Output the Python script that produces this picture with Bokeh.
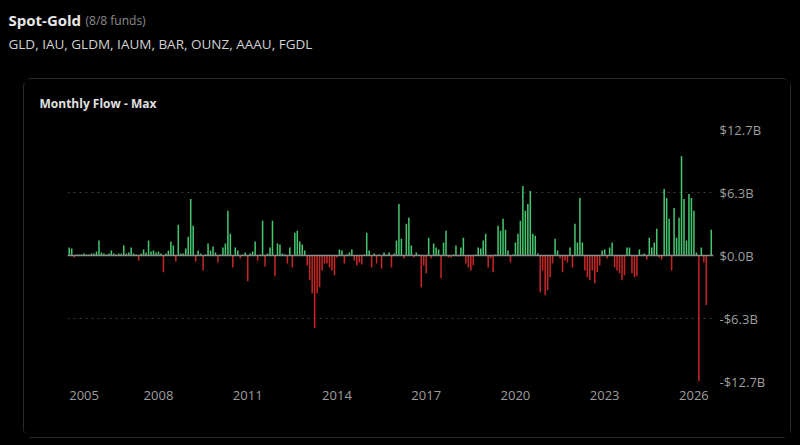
from bokeh.plotting import figure
from bokeh.layouts import column
from bokeh.models import FixedTicker, Range1d, Span, ColumnDataSource
from bokeh.core.properties import value
from bokeh.embed import file_html
from bokeh.resources import INLINE

# ---------------- data ----------------
title_text = "Spot-Gold"
fund_count_text = "(8/8 funds)"
fund_tickers = ["GLD", "IAU", "GLDM", "IAUM", "BAR", "OUNZ", "AAAU", "FGDL"]
panel_title = "Monthly Flow - Max"
start_year = 2005
start_month = 1
x_tick_years = [2005, 2008, 2011, 2014, 2017, 2020, 2023, 2026]

# monthly net flow, billions USD
flows = [
    0.8, 0.7, -0.2, 0.1, 0.1, 0.1, 0.2, 0.1, 0.1, 0.2,
    0.2, 0.4, 1.5, 0.3, 0.2, 0.1, 0.2, 0.5, 0.2, 0.1,
    0.2, 0.2, 1.0, 0.2, 0.3, 0.8, 0.2, 0.1, -0.5, 0.2,
    0.6, 0.3, 1.5, 0.4, 0.5, 0.3, 0.4, 0.2, -1.7, 0.2,
    0.5, 1.4, 1.0, -0.6, 3.1, 0.2, 0.2, 0.7, 1.9, 5.7,
    3.0, -0.6, 0.5, 0.2, -1.5, 0.1, 1.2, 0.5, 0.9, 0.3,
    -0.7, 0.1, 0.8, 1.2, 4.5, 2.2, -1.2, 0.8, 0.5, -0.3,
    0.1, 0.3, -2.6, 0.2, 0.4, 1.4, -0.5, 0.1, 3.5, -1.1,
    0.2, 0.8, 3.5, -2.1, 1.2, 1.1, 0.2, 0.1, -0.8, 0.8,
    -1.2, 2.3, 2.5, 1.4, 1.1, 0.5, -1.0, -2.5, -3.8, -7.3,
    -3.8, -3.2, -1.5, -0.8, -0.8, -1.2, -1.5, -2.0, -0.2, 0.6,
    0.5, -0.8, 0.1, 0.3, 0.6, -0.5, -1.0, -0.7, -0.9, 0.1,
    2.3, 0.5, -1.2, 0.2, -0.8, 0.1, -1.3, 0.3, 0.1, 0.3,
    -1.2, 0.2, 1.5, 5.2, 1.7, -0.3, 3.2, 3.8, 1.0, -0.2,
    0.3, 0.1, -3.2, -1.0, -1.8, 1.8, -0.3, 1.2, 0.8, 0.6,
    -2.3, 1.3, 2.5, -0.2, -0.2, 0.1, 1.0, -0.1, 0.8, 1.8,
    -0.8, -1.2, -1.5, -1.0, 0.1, 0.8, 0.7, 1.5, 2.2, -1.2,
    -0.3, -1.7, 0.1, 3.0, 2.5, 3.7, 2.6, 0.5, -0.7, 0.1,
    1.3, 2.2, 3.5, 7.0, 4.5, 5.2, 6.5, 2.2, 2.0, 0.2,
    -3.7, -1.5, -4.0, -3.5, -2.2, -0.8, 1.7, 0.5, -0.3, -1.7,
    -0.5, -0.7, 0.8, -1.2, 3.2, 1.3, 5.8, 1.3, -1.5, -2.2,
    -2.5, -1.5, -2.8, -1.7, -1.0, 0.5, 0.6, -0.3, 0.8, 1.3,
    -1.2, -1.5, -1.8, -2.5, -2.0, 0.8, 0.8, -1.8, -2.2, -2.1,
    0.6, 0.1, 0.2, -0.4, 1.8, 0.8, 1.3, 2.7, -0.2, -0.4,
    6.7, 5.8, 3.7, -1.5, 4.8, 1.8, 3.8, 10.0, 5.7, 1.5,
    6.2, 5.8, 4.5, 0.3, -12.7, 0.8, -0.7, -5.0, 0.0, 2.6,
]

# ---------------- derived ----------------
n = len(flows)
months = [f"{start_year + (start_month - 1 + k) // 12}-{(start_month - 1 + k) % 12 + 1:02d}" for k in range(n)]
idx = list(range(n))
GREEN = "#45c56e"
RED = "#c42626"
colors = [GREEN if v >= 0 else RED for v in flows]
src = ColumnDataSource(dict(x=idx, month=months, flow=flows, color=colors))

ymax = max(abs(v) for v in flows)
y_ticks = [-ymax, -ymax / 2, 0.0, ymax / 2, ymax]


def money(v):
    s = f"${abs(v):.1f}B"
    return "-" + s if v < 0 else s


FONT = "Open Sans"
BG = "#000000"

# ---------------- header ----------------
HW, HH = 800, 78
header = figure(width=HW, height=HH, output_backend="svg", toolbar_location=None,
                x_range=Range1d(0, HW), y_range=Range1d(HH, 0),
                min_border=0, min_border_left=0, min_border_right=0,
                min_border_top=0, min_border_bottom=0,
                x_axis_location=None, y_axis_location=None,
                background_fill_color=BG, border_fill_color=BG, outline_line_color=None)
header.xgrid.visible = False
header.ygrid.visible = False
header.text(x=[8], y=[19], text=[title_text], text_font=value(FONT), text_font_size="15px",
            text_font_style="bold", text_color="#e6e6e6", text_baseline="middle", text_align="left")
header.text(x=[85], y=[19.5], text=[fund_count_text], text_font=value(FONT), text_font_size="12px",
            text_color="#8c8c8c", text_baseline="middle", text_align="left")
header.text(x=[8], y=[43], text=[", ".join(fund_tickers)], text_font=value(FONT),
            text_font_size="13.5px", text_color="#d2d2d2", text_baseline="middle", text_align="left")

# ---------------- main panel ----------------
MW, MH = 768, 360
FL, FR, FT, FB = 43, 689, 49, 302  # frame edges inside the panel (px)

p = figure(width=MW, height=MH, output_backend="svg", toolbar_location=None,
           x_range=Range1d(-0.7, n - 0.1), y_range=Range1d(-ymax, ymax),
           min_border_left=FL, min_border_right=MW - FR,
           min_border_top=FT, min_border_bottom=MH - FB,
           background_fill_color=BG, border_fill_color=BG,
           outline_line_color=None, y_axis_location="right",
           title=panel_title)
p.margin = (0, 0, 0, 23)
p.styles = {"border": "1px solid #2a2a2a", "border-radius": "9px"}

p.title.align = "left"
p.title.vertical_align = "top"
p.title.offset = 15 - FL
p.title.text_font = FONT
p.title.text_font_size = "12px"
p.title.text_font_style = "bold"
p.title.text_color = "#e0e0e0"
p.title.standoff = 31

p.vbar(x="x", top="flow", bottom=0, width=0.62, fill_color="color", line_color=None, source=src)

p.xgrid.visible = False
p.ygrid.ticker = FixedTicker(ticks=y_ticks)
p.ygrid.grid_line_color = "#3a3a3a"
p.ygrid.grid_line_dash = "2 4"
p.ygrid.grid_line_width = 1

x_ticks = [(y - start_year) * 12 for y in x_tick_years]
x_ticks[0] = max(x_ticks[0], 6)
p.xaxis.ticker = FixedTicker(ticks=x_ticks)
p.xaxis.major_label_overrides = {t: str(y) for t, y in zip(x_ticks, x_tick_years)}
p.yaxis.ticker = FixedTicker(ticks=y_ticks)
p.yaxis.major_label_overrides = {t: money(t) for t in y_ticks}

for ax in (p.xaxis[0], p.yaxis[0]):
    ax.axis_line_color = None
    ax.major_tick_line_color = None
    ax.minor_tick_line_color = None
    ax.major_tick_in = 0
    ax.major_tick_out = 0
    ax.major_label_text_color = "#9e9e9e"
    ax.major_label_text_font = FONT
    ax.major_label_text_font_size = "13px"
p.xaxis.major_label_standoff = 9
p.yaxis.major_label_standoff = 6

p.add_layout(Span(location=0, dimension="width", line_color="#8c8c8c", line_width=1.6))

page = column(column(header, spacing=0), p, spacing=0, width=800, height=445,
              styles={"background-color": BG})

open("out.html", "w").write(file_html(page, INLINE))
